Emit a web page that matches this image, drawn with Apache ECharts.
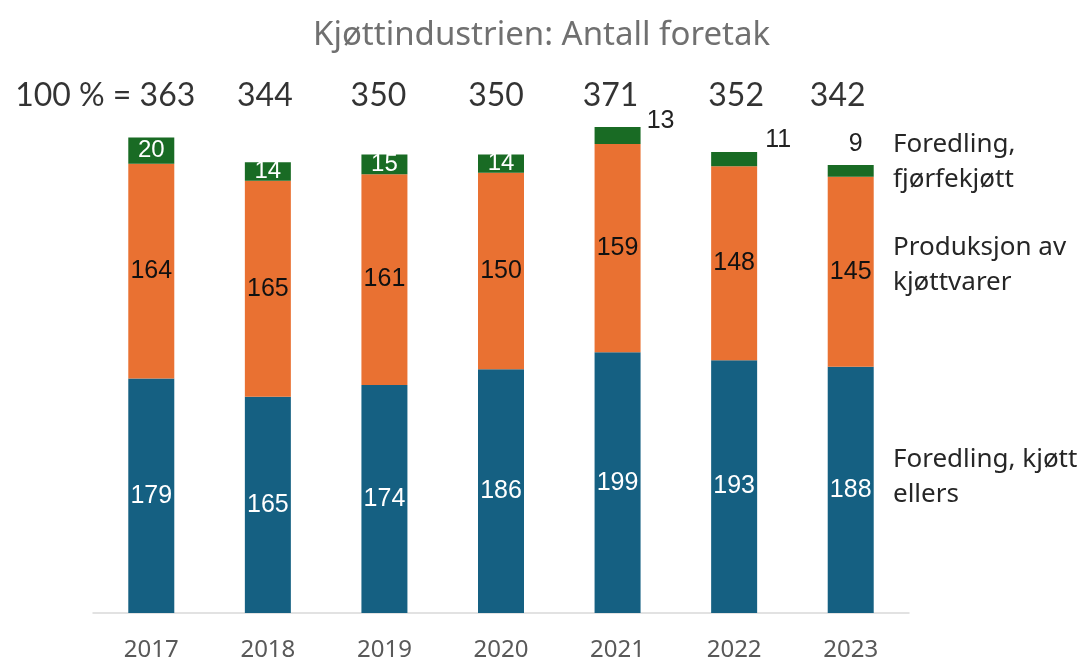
<!DOCTYPE html>
<html>
<head>
<meta charset="utf-8">
<script src="https://cdn.jsdelivr.net/npm/echarts@6/dist/echarts.min.js"></script>
<style>
  html, body { margin: 0; padding: 0; background: #fff; }
  #main { width: 1083px; height: 662px; }
</style>
</head>
<body>
<div id="main"></div>
<script>
const years = ['2017', '2018', '2019', '2020', '2021', '2022', '2023'];
const kjottEllers = [179, 165, 174, 186, 199, 193, 188];
const kjottvarer = [164, 165, 161, 150, 159, 148, 145];
const fjorfe = [20, 14, 15, 14, 13, 11, 9];
const totals = [363, 344, 350, 350, 371, 352, 342];
const seriesNames = ['Foredling, kjøtt ellers', 'Produksjon av kjøttvarer', 'Foredling, fjørfekjøtt'];

const chart = echarts.init(document.getElementById('main'));

// green labels that sit outside the bar (2021-2023)
const outsidePos = { 4: [66, -6], 5: [67, -12], 6: [28, -21] };
const greenData = fjorfe.map((v, i) => {
  if (outsidePos[i]) {
    return {
      value: v,
      label: { position: outsidePos[i], color: '#222', fontSize: 25, align: 'center', verticalAlign: 'middle' }
    };
  }
  return v;
});

const totalOffsets = [[44, 0], [-3, 0], [-6, 0], [-5, 0], [-7, 0], [2, 0], [-13, 0]];
const totalData = totals.map((t, i) => ({
  value: 395,
  label: {
    formatter: i === 0 ? '100 % = ' + t : String(t),
    align: i === 0 ? 'right' : 'center',
    offset: totalOffsets[i]
  }
}));

const segLabel = {
  show: true,
  position: 'inside',
  fontFamily: 'Liberation Sans',
  fontSize: 25
};

chart.setOption({
  animation: false,
  title: {
    text: 'Kjøttindustrien: Antall foretak',
    left: 'center',
    top: 14,
    textStyle: { fontFamily: 'Noto Sans', fontSize: 33, fontWeight: 'normal', color: '#707070' }
  },
  grid: { left: 93, right: 174, top: 89, bottom: 49 },
  xAxis: {
    type: 'category',
    data: years,
    axisLine: { lineStyle: { color: '#d9d9d9', width: 1.5 } },
    axisTick: { show: false },
    axisLabel: { color: '#595959', fontSize: 24, fontFamily: 'Noto Sans', margin: 25 }
  },
  yAxis: { type: 'value', min: 0, max: 400, show: false, splitLine: { show: false } },
  series: [
    {
      name: seriesNames[0], type: 'bar', stack: 'a', barWidth: 46,
      data: kjottEllers,
      itemStyle: { color: '#156082' },
      label: Object.assign({}, segLabel, { color: '#fff' })
    },
    {
      name: seriesNames[1], type: 'bar', stack: 'a',
      data: kjottvarer,
      itemStyle: { color: '#E97132' },
      label: Object.assign({}, segLabel, { color: '#111' })
    },
    {
      name: seriesNames[2], type: 'bar', stack: 'a',
      data: greenData,
      itemStyle: { color: '#196B24' },
      label: Object.assign({}, segLabel, { color: '#fff', fontSize: 24 })
    },
    {
      name: 'totals', type: 'scatter', symbolSize: 0,
      data: totalData,
      silent: true,
      label: {
        show: true, position: 'inside', verticalAlign: 'middle',
        fontFamily: 'Lato', fontSize: 32, color: '#000'
      }
    }
  ],
  graphic: [
    { type: 'text', left: 893, top: 127, style: { text: 'Foredling,\nfjørfekjøtt', font: '26px "Noto Sans"', fill: '#262626', lineHeight: 35 } },
    { type: 'text', left: 893, top: 230, style: { text: 'Produksjon av\nkjøttvarer', font: '26px "Noto Sans"', fill: '#262626', lineHeight: 35 } },
    { type: 'text', left: 893, top: 442, style: { text: 'Foredling, kjøtt\nellers', font: '26px "Noto Sans"', fill: '#262626', lineHeight: 35 } }
  ]
});
</script>
</body>
</html>
